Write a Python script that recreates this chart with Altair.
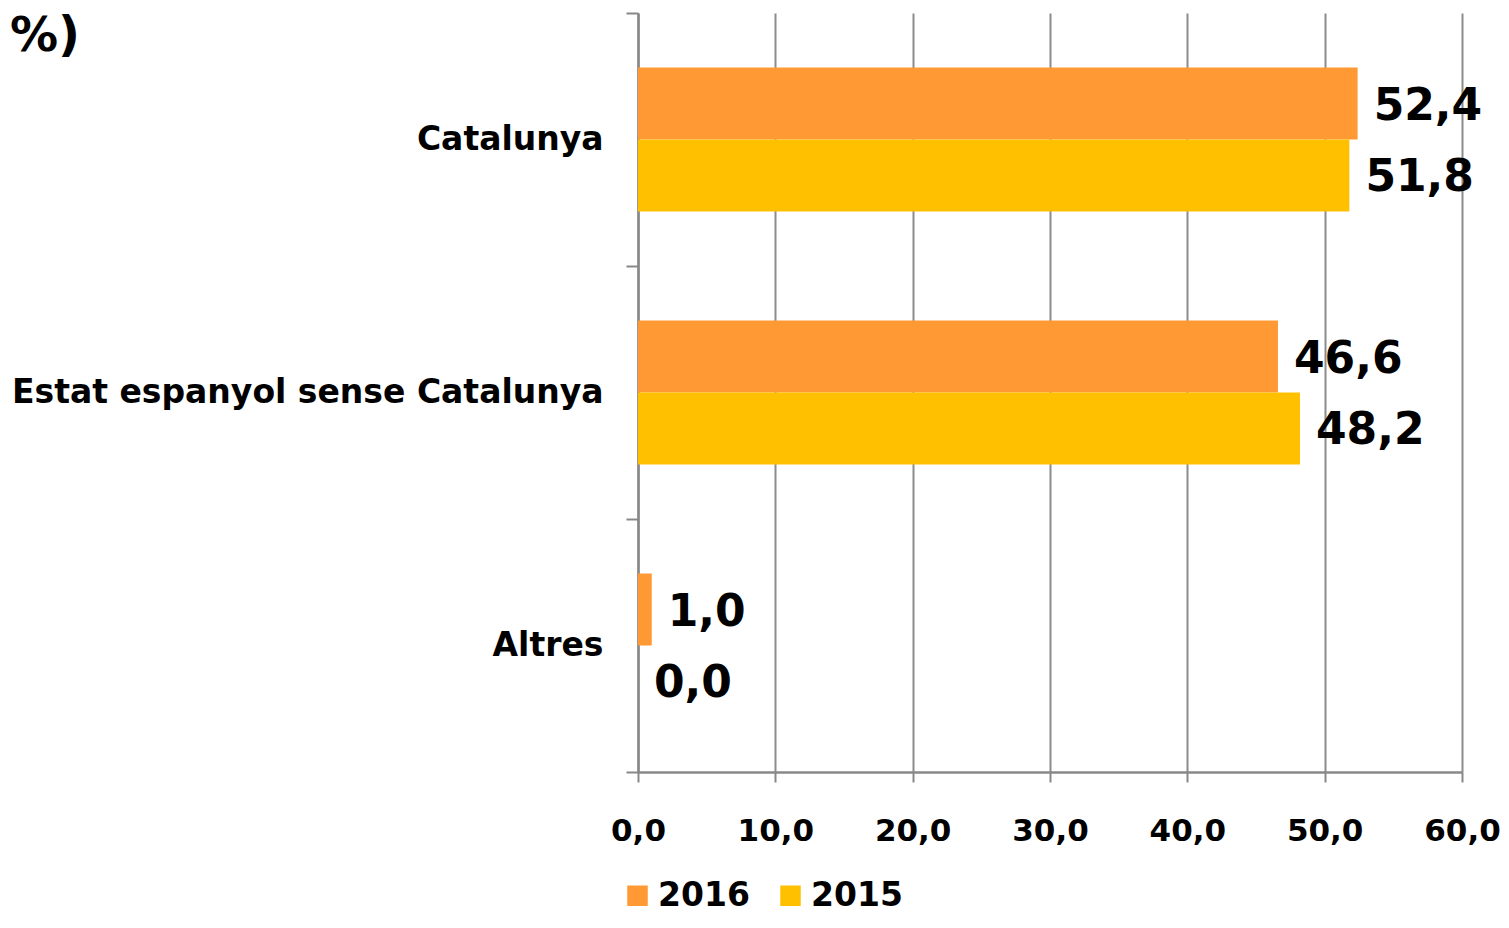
import altair as alt
import pandas as pd

regions = ["Catalunya", "Estat espanyol sense Catalunya", "Altres"]
years = ["2016", "2015"]
values_2016 = [52.4, 46.6, 1.0]
values_2015 = [51.8, 48.2, 0.0]
x_ticks = [0, 10, 20, 30, 40, 50, 60]
colors = ["#FF9933", "#FFC000"]

rows = []
for r, v16, v15 in zip(regions, values_2016, values_2015):
    rows.append({"Regio": r, "Any": "2016", "Valor": v16})
    rows.append({"Regio": r, "Any": "2015", "Valor": v15})
df = pd.DataFrame(rows)

FONT = "DejaVu Sans"
fmt = "replace(format(datum.value, '.1f'), '.', ',')"

base = alt.Chart(df).encode(
    y=alt.Y(
        "Regio:N",
        sort=regions,
        scale=alt.Scale(paddingInner=0, paddingOuter=0),
        axis=alt.Axis(
            title=None,
            labelFont=FONT,
            labelFontSize=33,
            labelFontWeight="bold",
            labelColor="black",
            labelPadding=23,
            tickSize=12,
            tickWidth=2,
            tickColor="#888888",
            tickBand="extent",
            domainColor="#888888",
            domainWidth=2.5,
            grid=False,
            labelLimit=1000,
        ),
    ),
    yOffset=alt.YOffset(
        "Any:N",
        sort=years,
        scale=alt.Scale(paddingInner=0, paddingOuter=0.757),
    ),
)

bars = base.mark_bar().encode(
    x=alt.X(
        "Valor:Q",
        scale=alt.Scale(domain=[0, 60], nice=False),
        axis=alt.Axis(
            title=None,
            values=x_ticks,
            labelExpr=fmt,
            labelFlush=False,
            labelFont=FONT,
            labelFontSize=31,
            labelFontWeight="bold",
            labelColor="black",
            labelPadding=34,
            tickSize=10,
            tickWidth=2,
            tickColor="#888888",
            domainColor="#888888",
            domainWidth=2.5,
            grid=True,
            gridColor="#8c8c8c",
            gridWidth=2,
        ),
    ),
    color=alt.Color(
        "Any:N",
        sort=years,
        scale=alt.Scale(domain=years, range=colors),
        legend=alt.Legend(
            title=None,
            orient="none",
            legendX=-17,
            legendY=866,
            direction="horizontal",
            symbolType="square",
            symbolSize=420,
            symbolStrokeWidth=0,
            symbolOpacity=1,
            labelFont=FONT,
            labelFontSize=33,
            labelFontWeight="bold",
            labelColor="black",
            labelOffset=4,
            columnPadding=24,
        ),
    ),
)

labels = base.mark_text(
    align="left",
    baseline="middle",
    dx=16,
    dy=3,
    font=FONT,
    fontSize=44,
    fontWeight="bold",
    color="black",
).transform_calculate(
    label="replace(format(datum.Valor, '.1f'), '.', ',')"
).encode(
    x=alt.X("Valor:Q"),
    text="label:N",
)

chart = (
    alt.layer(bars, labels)
    .properties(
        width=824,
        height=759,
        autosize=alt.AutoSizeParams(type="none"),
        padding={"left": 630, "top": 5, "right": 39, "bottom": 144},
        title=alt.TitleParams(
            text="%)",
            anchor="start",
            frame="group",
            font=FONT,
            fontSize=48,
            fontWeight="bold",
            color="black",
            baseline="alphabetic",
            offset=0,
            dx=-628,
            dy=102,
        ),
    )
    .configure_view(stroke=None)
)

chart.save("out.html", embed_options={"renderer": "svg", "actions": False})
